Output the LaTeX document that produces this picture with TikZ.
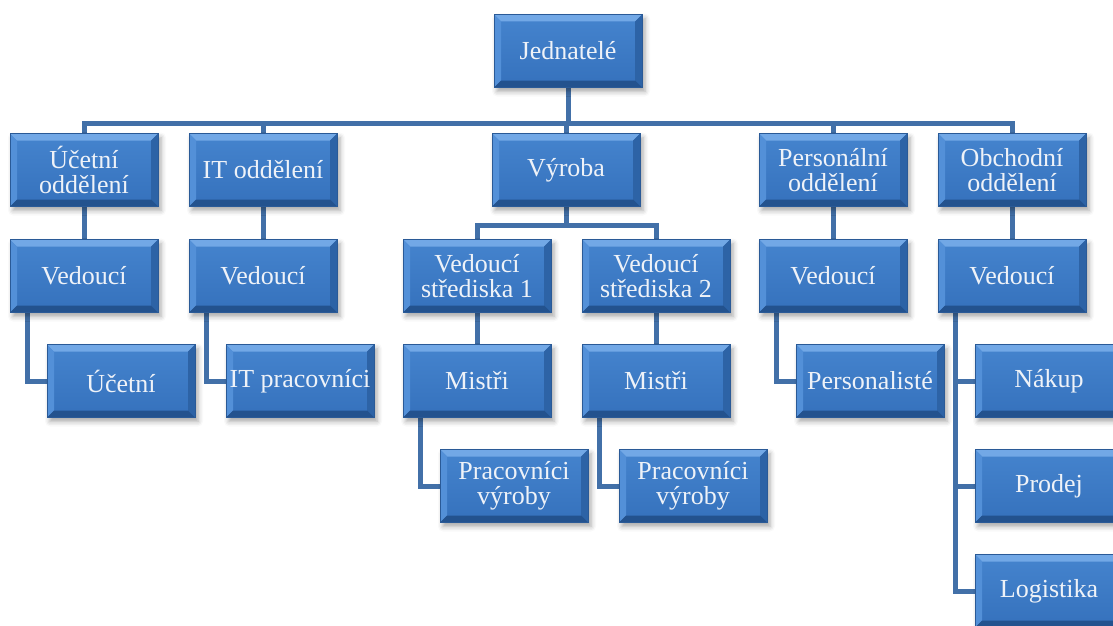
\documentclass[tikz,border=0pt]{standalone}
\usepackage{fontspec}
\setmainfont{Liberation Serif}
\usetikzlibrary{shadows.blur}
\pgfdeclarelayer{background}
\pgfsetlayers{background,main}

\definecolor{face}{HTML}{3B7AC6}
\definecolor{facetop}{HTML}{4584CE}
\definecolor{facebot}{HTML}{3571BC}
\definecolor{bevtop}{HTML}{72A8E6}
\definecolor{bevleft}{HTML}{5390D8}
\definecolor{bevright}{HTML}{2D63A6}
\definecolor{bevbot}{HTML}{23528E}
\definecolor{rim}{HTML}{2A5A97}
\definecolor{wire}{HTML}{4270A8}
\definecolor{label}{HTML}{EEF2F8}

\newcommand{\bv}{7pt}
\newcommand{\pp}{path picture bounding box}

\tikzset{
  tile/.style={
    rectangle, minimum width=148pt, minimum height=73pt, inner sep=0pt,
    top color=facetop, bottom color=facebot, draw=rim, line width=0.6pt,
    blur shadow={shadow xshift=3pt, shadow yshift=-4pt, shadow blur radius=5pt, shadow opacity=35},
    text=label, align=center, font=\fontsize{26}{25}\selectfont,
    path picture={
      \fill[bevtop] (\pp.north west) -- (\pp.north east)
        -- ([shift={(-\bv,-\bv)}]\pp.north east) -- ([shift={(\bv,-\bv)}]\pp.north west) -- cycle;
      \fill[bevleft] (\pp.north west) -- ([shift={(\bv,-\bv)}]\pp.north west)
        -- ([shift={(\bv,\bv)}]\pp.south west) -- (\pp.south west) -- cycle;
      \fill[bevright] (\pp.north east) -- ([shift={(-\bv,-\bv)}]\pp.north east)
        -- ([shift={(-\bv,\bv)}]\pp.south east) -- (\pp.south east) -- cycle;
      \fill[bevbot] (\pp.south west) -- (\pp.south east)
        -- ([shift={(-\bv,\bv)}]\pp.south east) -- ([shift={(\bv,\bv)}]\pp.south west) -- cycle;
    }
  },
  link/.style={draw=wire, line width=5pt, line cap=rect, line join=miter}
}

\begin{document}
\begin{tikzpicture}[x=1pt, y=-1pt]
\useasboundingbox (0,0) rectangle (1113,626);
\clip (0,0) rectangle (1113,626);

% top
\node[tile] (jed) at (568,51) {Jednatelé};

% departments
\node[tile] (ucod) at (84,170)  {Účetní\\oddělení};
\node[tile] (itod) at (263,170) {IT oddělení};
\node[tile] (vyr)  at (566,170) {Výroba};
\node[tile] (peod) at (833,170) {Personální\\oddělení};
\node[tile] (obod) at (1012,170) {Obchodní\\oddělení};

% heads
\node[tile] (ucv)  at (84,276)  {Vedoucí};
\node[tile] (itv)  at (263,276) {Vedoucí};
\node[tile] (vs1)  at (477,276) {Vedoucí\\střediska 1};
\node[tile] (vs2)  at (656,276) {Vedoucí\\střediska 2};
\node[tile] (pev)  at (833,276) {Vedoucí};
\node[tile] (obv)  at (1012,276) {Vedoucí};

% staff
\node[tile] (uc)   at (121,381) {Účetní};
\node[tile] (itp)  at (300,381) {IT pracovníci};
\node[tile] (mi1)  at (477,381) {Mistři};
\node[tile] (mi2)  at (656,381) {Mistři};
\node[tile] (pers) at (870,381) {Personalisté};
\node[tile] (nak)  at (1049,381) {Nákup};

\node[tile] (pv1)  at (514,486) {Pracovníci\\výroby};
\node[tile] (pv2)  at (693,486) {Pracovníci\\výroby};
\node[tile] (pro)  at (1049,486) {Prodej};
\node[tile] (log)  at (1049,591) {Logistika};

\coordinate (bus) at (0,123);
\coordinate (vbus) at (0,225);

\begin{pgfonlayer}{background}
  % top level bus
  \draw[link] (jed.south) -- (jed.south |- bus);
  \draw[link] (ucod.north) -- (ucod.north |- bus) -- (obod.north |- bus) -- (obod.north);
  \draw[link] (itod.north) -- (itod.north |- bus);
  \draw[link] (vyr.north) -- (vyr.north |- bus);
  \draw[link] (peod.north) -- (peod.north |- bus);

  % department to head
  \draw[link] (ucod.south) -- (ucv.north);
  \draw[link] (itod.south) -- (itv.north);
  \draw[link] (peod.south) -- (pev.north);
  \draw[link] (obod.south) -- (obv.north);

  % production branch
  \draw[link] (vyr.south) -- (vyr.south |- vbus);
  \draw[link] (vs1.north) -- (vs1.north |- vbus) -- (vs2.north |- vbus) -- (vs2.north);
  \draw[link] (vs1.south) -- (mi1.north);
  \draw[link] (vs2.south) -- (mi2.north);

  % side branches
  \draw[link] ([xshift=18pt]ucv.south west) |- (uc.west);
  \draw[link] ([xshift=18pt]itv.south west) |- (itp.west);
  \draw[link] ([xshift=18pt]mi1.south west) |- (pv1.west);
  \draw[link] ([xshift=18pt]mi2.south west) |- (pv2.west);
  \draw[link] ([xshift=18pt]pev.south west) |- (pers.west);
  \draw[link] ([xshift=18pt]obv.south west) |- (log.west);
  \draw[link] ([xshift=18pt]obv.south west |- nak.west) -- (nak.west);
  \draw[link] ([xshift=18pt]obv.south west |- pro.west) -- (pro.west);
\end{pgfonlayer}
\end{tikzpicture}
\end{document}
